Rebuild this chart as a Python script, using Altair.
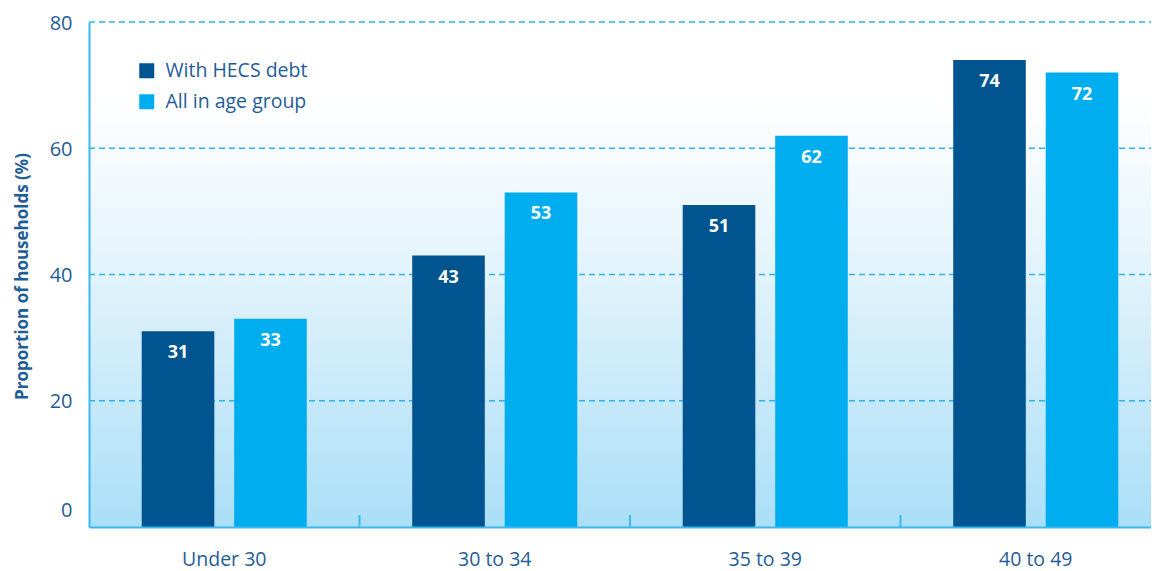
import altair as alt
import pandas as pd

groups = ["Under 30", "30 to 34", "35 to 39", "40 to 49"]
series = ["With HECS debt", "All in age group"]
hecs = [31, 43, 51, 74]
all_group = [33, 53, 62, 72]
y_ticks = [0, 20, 40, 60, 80]

rows = []
for g, a, b in zip(groups, hecs, all_group):
    rows.append({"group": g, "series": series[0], "value": a})
    rows.append({"group": g, "series": series[1], "value": b})
df = pd.DataFrame(rows)
gdf = pd.DataFrame({"group": groups[1:]})
griddf = pd.DataFrame({"value": y_ticks[1:]})

DARK = "#00548f"
LIGHT = "#00aeef"
TXT = "#1f5d98"
LINE = "#3ab8ef"
FONT = "Open Sans"
W, H = 1062, 505
XR = 1082

x_axis = alt.Axis(title=None, labelFontSize=19.5, labelColor=TXT, labelPadding=23,
                  ticks=False, domainColor=LINE, domainWidth=2, grid=False,
                  labelAngle=0, labelFont=FONT, zindex=1)
x_scale = alt.Scale(range=[0, XR], paddingInner=0, paddingOuter=0)

y_axis = alt.Axis(values=y_ticks, title="Proportion of households (%)",
                  titleFontSize=17, titleFontWeight="bold", titleColor=TXT,
                  titleFont=FONT, titleX=-67, titleY=254, titleBaseline="middle",
                  titleAlign="center", titleAngle=270,
                  labelFontSize=20, labelColor=TXT, labelFont=FONT, labelPadding=17,
                  labelOffset={"condition": {"test": "datum.value === 0", "value": -17}, "value": 1},
                  ticks=False, domainColor=LINE, domainWidth=2, grid=False, zindex=1)
y_scale = alt.Scale(domain=[0, 80])

bg = alt.Chart(pd.DataFrame({"k": [0]})).mark_rect(
    color=alt.Gradient(gradient="linear", x1=0, x2=0, y1=0, y2=1,
                       stops=[alt.GradientStop(color="#ffffff", offset=0),
                              alt.GradientStop(color="#ffffff", offset=0.15),
                              alt.GradientStop(color="#e2f3fb", offset=0.5),
                              alt.GradientStop(color="#aadff7", offset=1)])
).encode(x=alt.value(0), x2=alt.value(XR), y=alt.value(0), y2=alt.value(H))

grid = alt.Chart(griddf).mark_rule(color="#2fb4ee", strokeWidth=1.3, strokeDash=[6, 4]).encode(
    y=alt.Y("value:Q", scale=y_scale, axis=y_axis),
    x=alt.value(0), x2=alt.value(XR),
)

bars = alt.Chart(df).mark_bar().encode(
    x=alt.X("group:N", sort=groups, scale=x_scale, axis=x_axis),
    xOffset=alt.XOffset("series:N", sort=series,
                        scale=alt.Scale(paddingInner=0.215, paddingOuter=0.57)),
    y=alt.Y("value:Q", scale=y_scale, axis=y_axis),
    color=alt.Color("series:N", sort=series,
                    scale=alt.Scale(domain=series, range=[DARK, LIGHT]),
                    legend=alt.Legend(title=None, orient="none", legendX=48, legendY=39,
                                      symbolType="square", symbolSize=225, symbolStrokeWidth=0,
                                      labelFontSize=19.5, labelColor=TXT, labelFont=FONT,
                                      labelOffset=9, rowPadding=10)),
)

labels = alt.Chart(df).mark_text(baseline="middle", dy=22, color="white",
                                 fontWeight="bold", fontSize=18, font=FONT).encode(
    x=alt.X("group:N", sort=groups, scale=x_scale, axis=x_axis),
    xOffset=alt.XOffset("series:N", sort=series),
    y=alt.Y("value:Q", scale=y_scale, axis=y_axis),
    text=alt.Text("value:Q"),
)

ticks = alt.Chart(gdf).mark_rule(color=LINE, strokeWidth=2).encode(
    x=alt.X("group:N", sort=groups, scale=x_scale, axis=x_axis, bandPosition=0),
    y=alt.value(H - 12),
    y2=alt.value(H),
)

chart = alt.layer(bg, grid, bars, labels, ticks).properties(
    width=W, height=H,
    autosize=alt.AutoSizeParams(type="none"),
    padding={"left": 81, "top": 14, "right": 0, "bottom": 44},
).configure_view(stroke=None)

chart.save("out.html", embed_options={"renderer": "svg", "actions": False})
